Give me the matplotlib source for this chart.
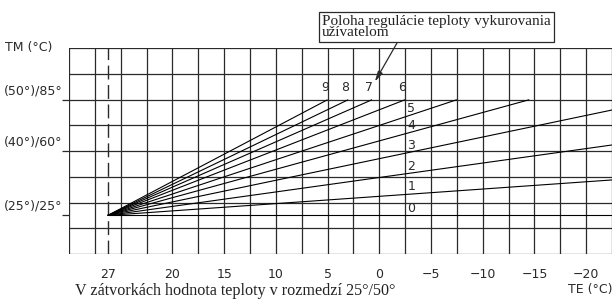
import matplotlib.pyplot as plt
import numpy as np

# Krivky ekvitermnej regulacie (schematicky diagram)
te_start = 26.25   # poloha znacky "27" na osi TE
tm_start = 28.75   # spolocny zaciatok kriviek

curve_names = ['0', '1', '2', '3', '4', '5', '6', '7', '8', '9']
curve_end_te = [-22.5, -22.5, -22.5, -22.5, -14.5, -7.5, -2.5, 0.7, 3.0, 5.0]
curve_end_tm = [28.75, 46.0, 63.0, 80.0, 85.0, 85.0, 85.0, 85.0, 85.0, 85.0]

te_tick_pos = [26.25, 20, 15, 10, 5, 0, -5, -10, -15, -20]
te_tick_labels = ['27', '20', '15', '10', '5', '0', '−5', '−10', '−15', '−20']
tm_tick_pos = [85, 60, 28.75]
tm_tick_labels = ['(50°)/85°', '(40°)/60°', '(25°)/25°']

arrow_tip = (0.43, 93.75)   # kam ukazuje popis polohy regulacie

line_col = '#2a2a2a'
sans = 'DejaVu Sans'
serif = 'Liberation Serif'

W, H = 614, 300
fig = plt.figure(figsize=(W / 100, H / 100), dpi=100)
ax = fig.add_axes([69 / W, (H - 254) / H, (612 - 69) / W, (254 - 48.3) / H])
ax.set_xlim(30, -22.5)
ax.set_ylim(10, 110)

# mriezka
for te in np.arange(-22.5, 30.01, 2.5):
    ax.axvline(te, color=line_col, lw=0.9, zorder=1)
for tm in np.arange(10, 110.01, 12.5):
    ax.axhline(tm, color=line_col, lw=0.9, zorder=1)
for s in ax.spines.values():
    s.set_visible(False)

# prerusovana ciara pri 27
ax.axvline(te_start, color=line_col, lw=1.0, ls=(0, (10, 4)), zorder=2)

# krivky
for name, te_end, tm_end in zip(curve_names, curve_end_te, curve_end_tm):
    ax.plot([te_start, te_end], [tm_start, tm_end], color='black', lw=0.8,
            solid_capstyle='butt', zorder=3)
    if tm_end >= 85 and te_end > -5:
        ax.annotate(name, (te_end, tm_end), xytext=(-2, 8.5), textcoords='offset points',
                    ha='center', va='center', fontsize=9, family=sans, color=line_col)
    else:
        te_lab = -2.7
        tm_lab = tm_start + (te_lab - te_start) * (tm_end - tm_start) / (te_end - te_start)
        ax.annotate(name, (te_lab, tm_lab), xytext=(0, 5.3), textcoords='offset points',
                    ha='left', va='center', fontsize=9, family=sans, color=line_col)

# osi
ax.set_xticks(te_tick_pos)
ax.set_xticklabels(te_tick_labels, fontsize=9, family=sans, color=line_col)
ax.tick_params(axis='x', length=0, pad=10)
ax.set_yticks(tm_tick_pos)
ax.set_yticklabels([])
ax.tick_params(axis='y', length=5, width=0.9, color=line_col)
for tm, lab in zip(tm_tick_pos, tm_tick_labels):
    ax.annotate(lab, (0, tm), xycoords=ax.get_yaxis_transform(), xytext=(-4.5, 6.5),
                textcoords='offset points', ha='right', va='center', fontsize=9,
                family=sans, color=line_col)

fig.text(5 / W, 1 - 47 / H, 'TM (°C)', ha='left', va='center', fontsize=9,
         family=sans, color=line_col)
fig.text(613 / W, 1 - 290 / H, 'TE (°C)', ha='right', va='center', fontsize=9,
         family=sans, color=line_col)
fig.text(75 / W, 1 - 291 / H, 'V zátvorkách hodnota teploty v rozmedzí 25°/50°',
         ha='left', va='center', fontsize=11.6, family=serif, color='#222222')

# popis s sipkou
fig.text(322 / W, 1 - 27 / H, 'Poloha regulácie teploty vykurovania\nužívatelom',
         ha='left', va='center', fontsize=11, family=serif, color='#222222',
         linespacing=0.8,
         bbox=dict(boxstyle='square,pad=0.2', fc='white', ec=line_col, lw=0.9))
ax.annotate('', xy=arrow_tip, xytext=(397, H - 43), textcoords='figure pixels',
            arrowprops=dict(arrowstyle='-|>,head_length=0.6,head_width=0.15',
                            color=line_col, lw=0.9, shrinkA=0, shrinkB=0))

fig.savefig('out.png', dpi=100)
